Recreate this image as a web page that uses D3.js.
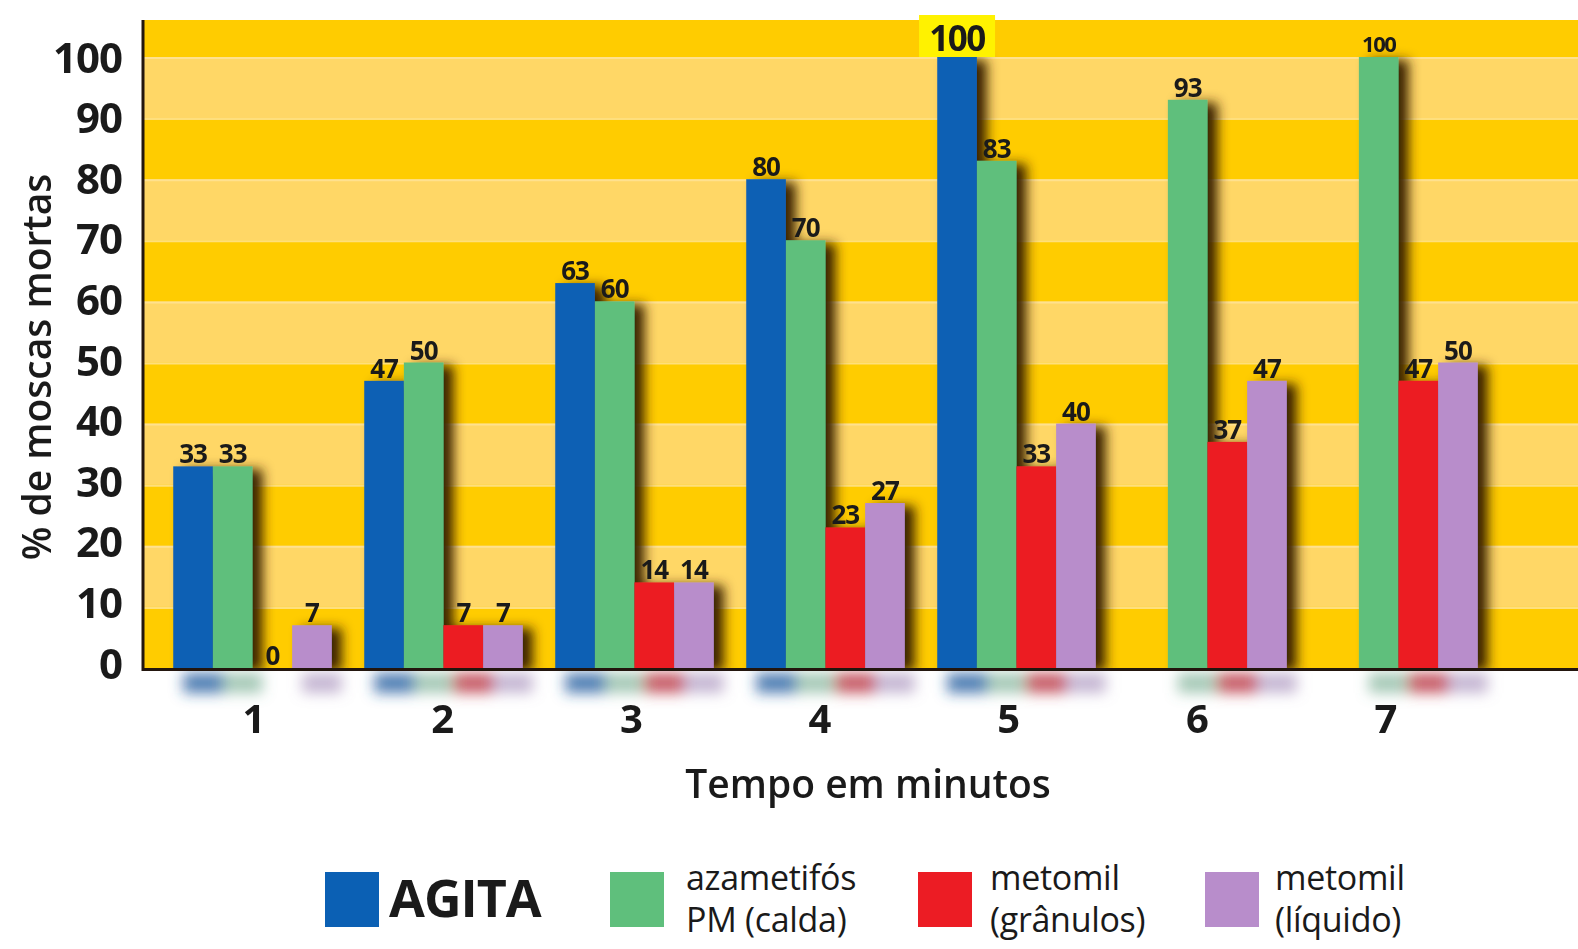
<!DOCTYPE html>
<html>
<head>
<meta charset="utf-8">
<script src="https://cdn.jsdelivr.net/npm/d3@7"></script>
<style>
  body { margin: 0; background: #fff; }
  text { font-family: "Open Sans", "Noto Sans", sans-serif; fill: #1a1a1a; }
</style>
</head>
<body>
<script>
// values
const times = [1, 2, 3, 4, 5, 6, 7];
const seriesNames = ["AGITA", "azametifós PM (calda)", "metomil (grânulos)", "metomil (líquido)"];
const agita = [33, 47, 63, 80, 100, null, null];
const azametifos = [33, 50, 60, 70, 83, 93, 100];
const metomilGranulos = [0, 7, 14, 23, 33, 37, 47];
const metomilLiquido = [7, 7, 14, 27, 40, 47, 50];
const yTicks = [0, 10, 20, 30, 40, 50, 60, 70, 80, 90, 100];
const legendLines = [["AGITA"], ["azametifós", "PM (calda)"], ["metomil", "(grânulos)"], ["metomil", "(líquido)"]];
const colors = ["#0b60b4", "#5fbf7c", "#ec1c24", "#b88dcb"];

const allSeries = [agita, azametifos, metomilGranulos, metomilLiquido];

var width = 1578,
    height = 949;

const svg = d3.select("body").append("svg")
  .attr("width", width)
  .attr("height", height);

const plotLeft = 143, plotTop = 20, plotRight = width;

var x0 = d3.scaleBand().domain(times).range([157, 1494]).paddingInner(0.17).paddingOuter(0.085);
var x1 = d3.scaleBand().domain(d3.range(seriesNames.length)).range([0, x0.bandwidth()]);
// the minute numbers under the axis sit on a slightly tighter step than the bars
var xLabel = d3.scalePoint().domain(times).range([254, 1386]);
var y = d3.scaleLinear().domain([0, 100]).range([668, 57]);

const defs = svg.append("defs");
const shadow = defs.append("filter").attr("id", "shadow")
  .attr("x", "-10%").attr("y", "-10%").attr("width", "120%").attr("height", "120%");
shadow.append("feDropShadow")
  .attr("dx", 10).attr("dy", 3).attr("stdDeviation", 6)
  .attr("flood-color", "#3a2400").attr("flood-opacity", 1);
const blur = defs.append("filter").attr("id", "blur")
  .attr("x", "-20%").attr("y", "-200%").attr("width", "140%").attr("height", "500%");
blur.append("feGaussianBlur").attr("stdDeviation", 7);
defs.append("clipPath").attr("id", "plotclip")
  .append("rect").attr("x", plotLeft).attr("y", plotTop)
  .attr("width", plotRight - plotLeft).attr("height", y(0) - plotTop);

// striped background
const bg = svg.append("g");
bg.append("rect")
  .attr("x", plotLeft).attr("y", plotTop)
  .attr("width", plotRight - plotLeft).attr("height", y(0) - plotTop)
  .attr("fill", "#ffcc00");
bg.selectAll("rect.band")
  .data(yTicks.filter(v => v % 20 === 10))
  .enter().append("rect")
  .attr("class", "band")
  .attr("x", plotLeft).attr("width", plotRight - plotLeft)
  .attr("y", d => y(d + 10))
  .attr("height", d => y(d) - y(d + 10))
  .attr("fill", "#ffd766");
bg.selectAll("line.edge")
  .data(yTicks.filter(v => v > 0))
  .enter().append("line")
  .attr("class", "edge")
  .attr("x1", plotLeft).attr("x2", plotRight)
  .attr("y1", d => y(d) + 1).attr("y2", d => y(d) + 1)
  .attr("stroke", "#ffe49a").attr("stroke-width", 2).attr("opacity", 0.8);

// rows of bar data
const rows = times.map((t, i) => ({
  time: t,
  bars: allSeries.map((s, k) => ({ k: k, time: t, value: s[i] })).filter(b => b.value !== null)
}));
const flat = rows.flatMap(r => r.bars);

// blurred reflection below the axis
svg.append("g").attr("filter", "url(#blur)")
  .selectAll("rect")
  .data(flat.filter(b => b.value > 0))
  .enter().append("rect")
  .attr("x", d => x0(d.time) + x1(d.k) + 10)
  .attr("y", y(0) + 5)
  .attr("width", x1.bandwidth())
  .attr("height", 20)
  .attr("fill", d => d3.interpolateRgb(colors[d.k], "#5a5a7a")(0.35))
  .attr("opacity", d => (d.k === 0 || d.k === 2) ? 0.8 : 0.55);

// bars
const barG = svg.append("g").attr("clip-path", "url(#plotclip)")
  .append("g").attr("filter", "url(#shadow)");
barG.selectAll("g")
  .data(rows).enter().append("g")
  .attr("transform", d => `translate(${x0(d.time)},0)`)
  .selectAll("rect")
  .data(d => d.bars).enter().append("rect")
  .attr("x", d => x1(d.k))
  .attr("y", d => y(d.value))
  .attr("width", x1.bandwidth())
  .attr("height", d => y(0) - y(d.value))
  .attr("fill", d => colors[d.k]);

// value labels
const maxValue = d3.max(flat, d => d.value);
const firstMax = flat.find(d => d.value === maxValue);
const labels = svg.append("g");
flat.forEach(d => {
  const cx = x0(d.time) + x1(d.k) + x1.bandwidth() / 2;
  if (d === firstMax) {
    labels.append("rect")
      .attr("x", cx - 38).attr("y", y(d.value) - 42)
      .attr("width", 76).attr("height", 42)
      .attr("fill", "#fff200");
    labels.append("text")
      .attr("x", cx).attr("y", y(d.value) - 6)
      .attr("text-anchor", "middle")
      .attr("font-size", 35).attr("font-weight", 700)
      .attr("letter-spacing", -1.5)
      .text(d.value);
  } else {
    const big = String(d.value).length > 2;
    labels.append("text")
      .attr("x", cx).attr("y", y(d.value) - (big ? 5 : 3))
      .attr("text-anchor", "middle")
      .attr("font-size", big ? 22 : 26).attr("font-weight", 700)
      .attr("letter-spacing", big ? -1.5 : -1)
      .text(d.value);
  }
});

// axes
svg.append("line")
  .attr("x1", plotLeft).attr("x2", plotRight)
  .attr("y1", y(0) + 1.5).attr("y2", y(0) + 1.5)
  .attr("stroke", "#23160e").attr("stroke-width", 3);
svg.append("line")
  .attr("x1", plotLeft).attr("x2", plotLeft)
  .attr("y1", plotTop).attr("y2", y(0) + 3)
  .attr("stroke", "#23160e").attr("stroke-width", 3);

svg.append("g").selectAll("text")
  .data(yTicks).enter().append("text")
  .attr("x", 122)
  .attr("y", d => y(d) - 6 + d * 0.05)
  .attr("text-anchor", "end")
  .attr("dominant-baseline", "central")
  .attr("font-size", 42).attr("font-weight", 700)
  .attr("letter-spacing", -1)
  .text(d => d);

svg.append("g").selectAll("text")
  .data(times).enter().append("text")
  .attr("x", d => xLabel(d))
  .attr("y", 733)
  .attr("text-anchor", "middle")
  .attr("font-size", 40).attr("font-weight", 700)
  .text(d => d);

svg.append("text")
  .attr("x", 868).attr("y", 798)
  .attr("text-anchor", "middle")
  .attr("font-size", 39).attr("font-weight", 600)
  .text("Tempo em minutos");

svg.append("text")
  .attr("transform", "translate(51,367) rotate(-90)")
  .attr("text-anchor", "middle")
  .attr("font-size", 39).attr("font-weight", 600)
  .text("% de moscas mortas");

// legend
const legendX = [325, 610, 918, 1205];
const legendTextDx = [64, 76, 72, 70];
const legend = svg.append("g").selectAll("g")
  .data(seriesNames).enter().append("g")
  .attr("transform", (d, i) => `translate(${legendX[i]},872)`);
legend.append("rect")
  .attr("width", 54).attr("height", 55)
  .attr("fill", (d, i) => colors[i]);
legend.each(function (d, i) {
  const g = d3.select(this);
  const lines = legendLines[i];
  if (lines.length === 1) {
    g.append("text")
      .attr("x", legendTextDx[i]).attr("y", 45)
      .attr("font-size", 52).attr("font-weight", 700)
      .attr("letter-spacing", -1)
      .text(lines[0]);
  } else {
    lines.forEach((l, j) => {
      g.append("text")
        .attr("x", legendTextDx[i]).attr("y", 18 + j * 42)
        .attr("font-size", 34)
        .attr("letter-spacing", -0.3)
        .text(l);
    });
  }
});
</script>
</body>
</html>
